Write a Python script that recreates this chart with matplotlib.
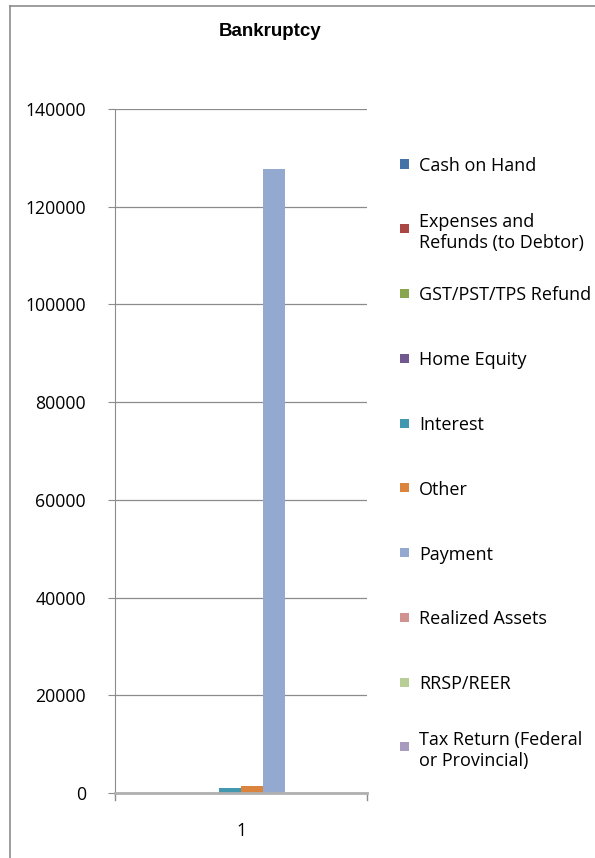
import matplotlib
matplotlib.use("Agg")
import matplotlib.pyplot as plt
from matplotlib.patches import Rectangle
from matplotlib.lines import Line2D

# data
categories = ["1"]
series_names = [
    "Cash on Hand",
    "Expenses and\nRefunds (to Debtor)",
    "GST/PST/TPS Refund",
    "Home Equity",
    "Interest",
    "Other",
    "Payment",
    "Realized Assets",
    "RRSP/REER",
    "Tax Return (Federal\nor Provincial)",
]
series_values = [0, 0, 0, 0, 950, 1400, 127800, 0, 0, 0]
colors = ["#4572A7", "#AA4643", "#89A54E", "#71588F", "#4198AF",
          "#DB843D", "#93A9CF", "#D19392", "#B9CD96", "#A99BBD"]

W, H = 595, 858
fig = plt.figure(figsize=(W / 100, H / 100), dpi=100)
FONT = "Open Sans"

ax = fig.add_axes([115 / W, (H - 793) / H, (367 - 115) / W, (793 - 109) / H])

n = len(series_values)
w = 1 / (n + 1.5)
start = 1 - n * w / 2
for i, (name, val, c) in enumerate(zip(series_names, series_values, colors)):
    ax.bar(start + i * w, val, width=w, align="edge", color=c, label=name, zorder=2)

ax.set_xlim(0.5, 1.5)
ax.set_ylim(0, 140000)
ax.set_yticks(range(0, 140001, 20000))
ax.set_xticks([1])
ax.set_xticklabels(categories)
ax.yaxis.grid(True, color="#8c8c8c", linewidth=0.9, zorder=0)
ax.set_axisbelow(True)

for s in ["top", "right"]:
    ax.spines[s].set_visible(False)
ax.spines["left"].set_color("#8c8c8c")
ax.spines["bottom"].set_color("#b0b0b0")
ax.spines["bottom"].set_linewidth(2)
ax.tick_params(axis="y", length=5, color="#8c8c8c", labelsize=12.7, pad=16)
ax.tick_params(axis="x", length=0, labelsize=12.7, pad=21)
for lbl in ax.get_xticklabels() + ax.get_yticklabels():
    lbl.set_family(FONT)

# category boundary ticks on x-axis
for xb in (0.5, 1.5):
    ax.plot([xb, xb], [0, -0.01], transform=ax.get_xaxis_transform(),
            color="#8c8c8c", lw=1, clip_on=False)

fig.text(270 / W, 1 - 31 / H, "Bankruptcy", ha="center", va="center",
         fontsize=13.5, fontweight="bold", family="Liberation Sans")

# legend, Excel style: evenly spaced markers, wrapped text hangs below
box = 9
for i, (name, c) in enumerate(zip(series_names, colors)):
    yc = 164 + i * 64.75
    fig.add_artist(Rectangle((400 / W, 1 - (yc + box / 2) / H), box / W, box / H,
                             facecolor=c, edgecolor="none", transform=fig.transFigure))
    fig.text(419 / W, 1 - yc / H, name, ha="left", va="center_baseline",
             fontsize=13, family=FONT, linespacing=1.2)

# outer chart border (top and left visible)
fig.add_artist(Line2D([10 / W, 1], [1 - 6 / H, 1 - 6 / H], color="#8c8c8c", lw=1.2))
fig.add_artist(Line2D([10 / W, 10 / W], [0, 1 - 6 / H], color="#8c8c8c", lw=1.2))

fig.savefig("out.png", dpi=100)
